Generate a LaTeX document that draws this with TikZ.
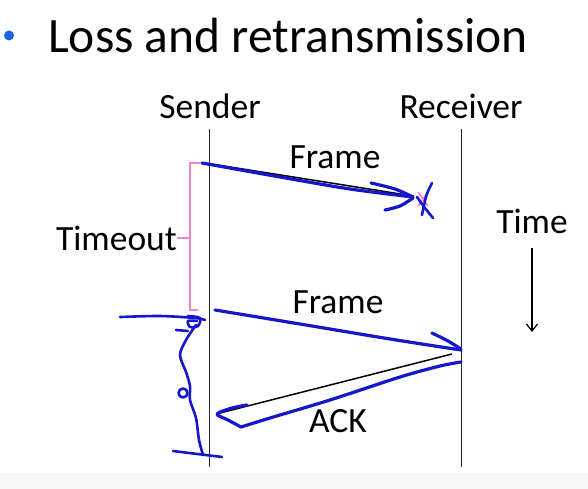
\documentclass[tikz,border=0pt]{standalone}
\usepackage{fontspec}
\setmainfont{Carlito}
\usetikzlibrary{arrows.meta}
\definecolor{penblue}{RGB}{22,22,205}
\definecolor{pinkpen}{RGB}{240,130,200}
\definecolor{bulletblue}{RGB}{30,100,225}
\begin{document}
\begin{tikzpicture}[x=1pt,y=-1pt,
  lbl/.style={font=\fontsize{35.5}{40}\selectfont, inner sep=0pt},
  lifeline/.style={draw=black!85, line width=1.3pt},
  msg/.style={black, line width=1.5pt},
  pen/.style={penblue, line width=3.2pt, line cap=round, line join=round},
  brk/.style={pinkpen, line width=1.5pt}]
\useasboundingbox (0,0) rectangle (588,489);
\fill[gray!6] (0,473) rectangle (588,489);
% title
\fill[bulletblue] (9,35.5) circle (5);
\node[anchor=base west, font=\fontsize{49.5}{56}\selectfont, inner sep=0pt] (title) at (48,53) {Loss and retransmission};
% headers
\node[lbl, anchor=base] (snd) at (210,119) {Sender};
\node[lbl, anchor=base] (rcv) at (461,119) {Receiver};
% lifelines
\coordinate (s0) at (209.5,129);
\coordinate (s1) at (209.5,467);
\coordinate (r0) at (461.5,129);
\coordinate (r1) at (461.5,467);
\draw[lifeline] (s0) -- (s1);
\draw[lifeline] (r0) -- (r1);
% timeout bracket
\node[lbl, anchor=east] (to) at (177,238) {Timeout};
\draw[brk] (200,163) -- (190,163) -- (190,310) -- (198,310);
\draw[brk] (to.east) -- (190,238);
% frame 1 (lost)
\coordinate (f1a) at (205,163);
\coordinate (f1b) at (413,196);
\draw[msg] (f1a) -- (f1b);
\node[lbl] (fr1) at (335,157) {Frame};
\draw[pen] plot[smooth] coordinates {(202,163) (280,177) (350,189) (413,197)};
\draw[pen] plot[smooth] coordinates {(371,183) (395,189) (413,197)};
\draw[pen] plot[smooth] coordinates {(385,210) (400,206) (413,198)};
\draw[pinkpen, line width=1.6pt] (418,192) -- (428,206) (428,192) -- (418,206);
\draw[pen, line width=2.6pt] (432,183) .. controls (426,195) .. (422,215);
\draw[pen, line width=2.6pt] (417,197) .. controls (424,207) .. (433,218);
% frame 2
\coordinate (f2a) at (214,310);
\coordinate (f2b) at (461,350);
\draw[msg] (f2a) -- (f2b);
\node[lbl] (fr2) at (338,302) {Frame};
\draw[pen] plot[smooth] coordinates {(215,310) (300,324) (390,339) (461,350)};
\draw[pen] plot[smooth] coordinates {(432,333) (448,341) (461,349)};
% ack
\coordinate (aa) at (452,354);
\coordinate (ab) at (220,413);
\draw[msg] (aa) -- (ab);
\node[lbl] (ack) at (338,421) {ACK};
\draw[pen] plot[smooth] coordinates {(461,362) (440,366) (400,377) (330,400) (270,418) (241,427)};
\draw[pen] plot[smooth] coordinates {(241,427) (228,420) (217,414) (232,408) (247,405)};
% scribble on sender side
\draw[pen, line width=2.6pt] plot[smooth] coordinates {(120,317) (160,316) (195,318) (205,320)};
\draw[pen, line width=2.6pt] plot[smooth] coordinates {(188,316) (200,318) (198,326) (190,327) (188,321) (197,321)};
\draw[pen, line width=2.6pt] plot[smooth] coordinates {(196,325) (186,340) (180,355) (186,372) (190,386) (190,400) (196,418) (199,440) (203,455)};
\draw[pen, line width=2.6pt] (183,393) circle (4.5);
\draw[pen, line width=2.6pt] (176,330) -- (188,331);
\draw[pen, line width=2.6pt] (173,451) -- (222,457);
% time
\node[lbl] (time) at (532,221) {Time};
\coordinate (t0) at (532,248);
\coordinate (t1) at (532,332);
\draw[black, line width=1.2pt, -{Straight Barb[length=7pt,width=11pt]}] (t0) -- (t1);
\end{tikzpicture}
\end{document}
